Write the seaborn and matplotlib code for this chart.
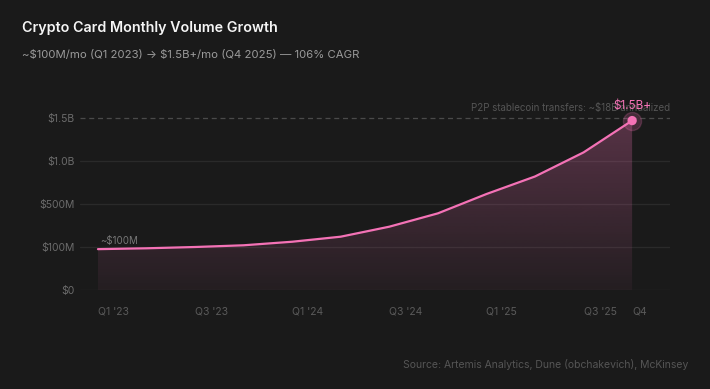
import numpy as np
import pandas as pd
import matplotlib
matplotlib.use("Agg")
import matplotlib.pyplot as plt
import seaborn as sns
from matplotlib.patches import Polygon

# quarterly monthly-volume, $M
quarters = ["Q1 '23", "Q2 '23", "Q3 '23", "Q4 '23", "Q1 '24", "Q2 '24",
            "Q3 '24", "Q4 '24", "Q1 '25", "Q2 '25", "Q3 '25", "Q4 '25"]
volume = [95, 97, 100, 116, 149, 196, 289, 413, 616, 820, 1100, 1470]

tick_idx = [0, 2, 4, 6, 8, 10, 11]
tick_labels = ["Q1 '23", "Q3 '23", "Q1 '24", "Q3 '24", "Q1 '25", "Q3 '25", "Q4"]
y_ticks = [0, 100, 500, 1000, 1500]
y_labels = ["\\$0", "\\$100M", "\\$500M", "\\$1.0B", "\\$1.5B"]
p2p_level = 1500

BG = "#1a1a1a"
PINK = "#f472b6"

sns.set_style("dark")
plt.rcParams["font.family"] = ["Inter", "DejaVu Sans"]

df = pd.DataFrame({"i": range(len(quarters)), "volume": volume})

# y axis uses evenly spaced ticks at uneven values
_v = [0, 100, 500, 1000, 1500, 3000]
_p = [0, 1, 2, 3, 4, 7]
def fwd(v):
    return np.interp(v, _v, _p)
def inv(p):
    return np.interp(p, _p, _v)

fig = plt.figure(figsize=(7.1, 3.89), dpi=100, facecolor=BG)
ax = fig.add_axes([80 / 710, 99 / 389, 590 / 710, 193.5 / 389])
ax.set_facecolor(BG)
ax.set_yscale("function", functions=(fwd, inv))
ax.set_xlim(-0.37, 11.78)
ax.set_ylim(0, 1750)

for t in y_ticks[:-1]:
    ax.axhline(t, color="#2a2a2a", lw=0.9, zorder=0)
ax.axhline(p2p_level, color="#4a4a4a", lw=0.9, ls=(0, (4, 3)), zorder=0)

# gradient fill under the line
poly = Polygon(list(zip(df["i"], df["volume"])) + [(11, 0), (0, 0)],
               closed=True, transform=ax.transData, facecolor="none", edgecolor="none")
ax.add_patch(poly)
top = (290 - 121) / 193.5
alpha = np.linspace(0.05, 0.28, 256)[::-1].reshape(-1, 1)
rgba = np.zeros((256, 1, 4))
rgba[..., 0], rgba[..., 1], rgba[..., 2] = 244 / 255, 114 / 255, 182 / 255
rgba[..., 3] = alpha
im = ax.imshow(rgba, extent=[0, 1, 0, top], transform=ax.transAxes,
               aspect="auto", zorder=1, interpolation="bilinear")
im.set_clip_path(poly)

sns.lineplot(data=df, x="i", y="volume", color=PINK, lw=1.6, ax=ax, zorder=3)
ax.scatter([11], [volume[-1]], s=170, facecolor=PINK, alpha=0.2,
           edgecolor=PINK, lw=1.0, zorder=4)
ax.scatter([11], [volume[-1]], s=45, color=PINK, zorder=5, edgecolor="none")

ax.set_yticks(y_ticks)
ax.set_yticklabels(y_labels)
ax.set_xticks(tick_idx)
ax.set_xticklabels(tick_labels)
for lbl in ax.get_xticklabels():
    lbl.set_ha("left")
ax.tick_params(axis="y", length=0, pad=4, colors="#6b6b6b", labelsize=7.5)
ax.tick_params(axis="x", length=0, pad=12, colors="#5a5a5a", labelsize=7.5)
ax.set_xlabel("")
ax.set_ylabel("")
ax.grid(False)
for s in ax.spines.values():
    s.set_visible(False)

ax.text(1.0, 1555, "P2P stablecoin transfers: ~\\$18B annualized", transform=ax.get_yaxis_transform(),
        ha="right", va="bottom", color="#555555", fontsize=7)
ax.text(11, 1565, "\\$1.5B+", ha="center", va="bottom", color=PINK, fontsize=8.5, zorder=6)
ax.text(0.05, 108, "~\\$100M", ha="left", va="bottom", color="#777777", fontsize=7)

fig.text(22 / 710, 1 - 28 / 389, "Crypto Card Monthly Volume Growth", color="#f5f5f5",
         fontsize=10.3, fontweight="semibold", va="center", ha="left")
fig.text(22 / 710, 1 - 55 / 389, "~\\$100M/mo (Q1 2023) \u2192 \\$1.5B+/mo (Q4 2025) \u2014 106% CAGR",
         color="#9a9a9a", fontsize=8.2, va="center", ha="left")
fig.text(688 / 710, 1 - 364 / 389, "Source: Artemis Analytics, Dune (obchakevich), McKinsey",
         color="#555555", fontsize=7.5, va="center", ha="right")

fig.savefig("out.png", dpi=100, facecolor=BG)
